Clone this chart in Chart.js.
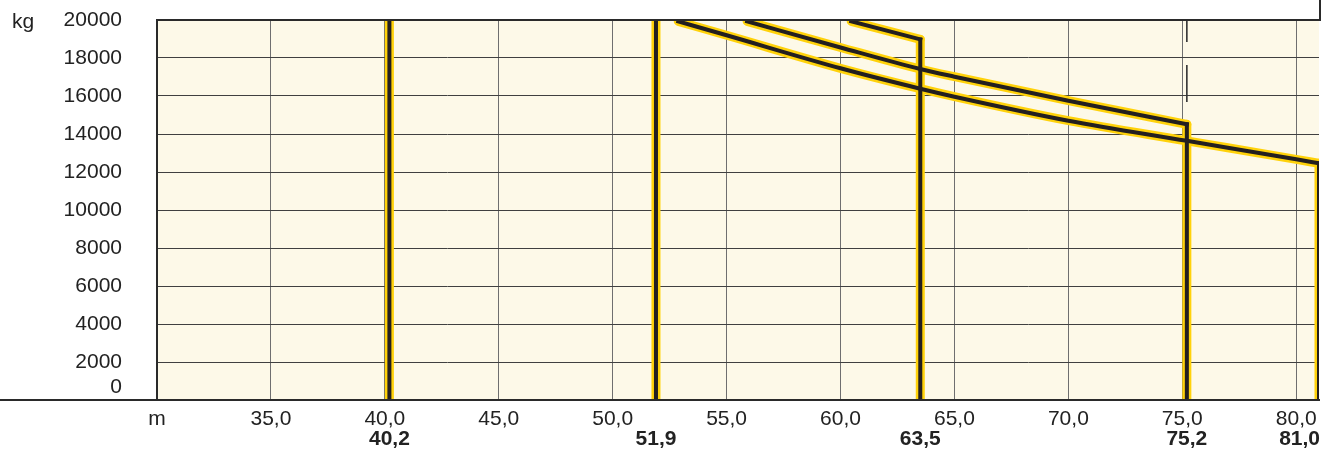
<!DOCTYPE html>
<html><head><meta charset="utf-8">
<script src="https://cdn.jsdelivr.net/npm/chart.js@4/dist/chart.umd.min.js"></script>
<style>html,body{margin:0;padding:0;background:#fff;}#wrap{width:1340px;height:454px;position:relative;}</style>
</head><body><div id="wrap"><canvas id="c"></canvas></div>
<script>
// ---- data ----
const xTickValues = [30, 35, 40, 45, 50, 55, 60, 65, 70, 75, 80];
const xTickLabels = ['m', '35,0', '40,0', '45,0', '50,0', '55,0', '60,0', '65,0', '70,0', '75,0', '80,0'];
const yTickValues = [0, 2000, 4000, 6000, 8000, 10000, 12000, 14000, 16000, 18000, 20000];
const boomValues = [40.2, 51.9, 63.5, 75.2, 81.0];
const boomLabels = ['40,2', '51,9', '63,5', '75,2', '81,0'];

const c402R = [40.2, 40.2];
const c402L = [21000, 0];
const c519R = [51.9, 51.9];
const c519L = [21000, 0];
const c635R = [60.47, 63.5, 63.5];
const c635L = [19930, 18980, 0];
const c752R = [55.9, 60, 63.5, 65, 70, 75.2, 75.2];
const c752L = [19930, 18553, 17421, 17017, 15753, 14509, 0];
const c810R = [52.88, 55, 60, 63.5, 65, 70, 75.2, 80, 81, 81];
const c810L = [19926, 19195, 17458, 16384, 15964, 14700, 13640, 12667, 12456, 0];
const dashR = [75.2, 75.2];
const dashL = [15690, 22000];

const curves = [[c402R, c402L], [c519R, c519L], [c635R, c635L], [c752R, c752L], [c810R, c810L]];
const pts = (r, l, a, b) => r.slice(a, b).map((v, i) => ({x: v, y: l[a + i]}));

const YELLOW = '#FFD20A';
const BLACK = '#231F20';
const FONT = "'Liberation Sans', Arial, sans-serif";

const datasets = [];
function addPart(data, smooth) {
  const common = {pointRadius: 0, clip: 0, tension: 0};
  if (smooth) common.cubicInterpolationMode = 'monotone';
  datasets.push(Object.assign({data, borderColor: YELLOW, borderWidth: 9, order: 3,
    borderJoinStyle: 'round', borderCapStyle: 'round'}, common));
  datasets.push(Object.assign({data, borderColor: BLACK, borderWidth: 4, order: 2,
    borderJoinStyle: 'miter', borderCapStyle: 'square'}, common));
}
curves.forEach(([r, l]) => {
  const n = r.length;
  if (n > 2) addPart(pts(r, l, 0, n - 1), true);
  addPart(pts(r, l, n - 2, n), false);
});
datasets.push({data: pts(dashR, dashL, 0, 2), borderColor: '#333', borderWidth: 1.6, borderDash: [37, 23],
  order: 1, pointRadius: 0, clip: 0});

const decor = {
  id: 'decor',
  beforeDraw(chart) {
    const {ctx, chartArea: a} = chart;
    ctx.save();
    ctx.fillStyle = '#FDF9E8';
    ctx.fillRect(a.left, a.top, a.right - a.left, a.bottom - a.top);
    ctx.restore();
  },
  afterDraw(chart) {
    const {ctx, chartArea: a} = chart;
    const xs = chart.scales.x;
    ctx.save();
    ctx.strokeStyle = '#2a2a2a';
    ctx.lineWidth = 2;
    ctx.beginPath();
    ctx.moveTo(0, a.bottom); ctx.lineTo(a.right + 1, a.bottom);
    ctx.moveTo(a.left, a.bottom); ctx.lineTo(a.left, a.top);
    ctx.lineTo(a.right + 1, a.top); ctx.lineTo(a.right + 1, 0);
    ctx.stroke();
    ctx.fillStyle = '#222';
    ctx.font = '21px ' + FONT;
    ctx.textBaseline = 'middle';
    ctx.textAlign = 'left';
    ctx.fillText('kg', 12, 22);
    ctx.font = 'bold 21px ' + FONT;
    boomValues.forEach((v, i) => {
      const px = xs.getPixelForValue(v);
      if (i === boomValues.length - 1) { ctx.textAlign = 'right'; ctx.fillText(boomLabels[i], a.right + 1, 439); }
      else { ctx.textAlign = 'center'; ctx.fillText(boomLabels[i], px, 439); }
    });
    ctx.restore();
  }
};

new Chart(document.getElementById('c'), {
  type: 'line',
  data: {datasets},
  plugins: [decor],
  options: {
    responsive: true, maintainAspectRatio: false, animation: false,
    layout: {padding: {top: 20, right: 21, left: 0, bottom: 0}},
    plugins: {legend: {display: false}, tooltip: {enabled: false}},
    scales: {
      x: {
        type: 'linear', min: 30, max: 81, position: 'bottom',
        afterBuildTicks: s => { s.ticks = xTickValues.map(v => ({value: v})); },
        afterFit: s => { s.height = 54; s.paddingLeft = 0; s.paddingRight = 0; },
        border: {display: false},
        grid: {drawTicks: false, color: '#6f6f6f', lineWidth: 1},
        ticks: {
          autoSkip: false, maxRotation: 0, padding: 7, color: '#222',
          font: {family: FONT, size: 21},
          callback: v => { const i = xTickValues.indexOf(v); return i >= 0 ? xTickLabels[i] : ''; }
        }
      },
      y: {
        min: 0, max: 20000,
        afterBuildTicks: s => { s.ticks = yTickValues.map(v => ({value: v})); },
        afterFit: s => { s.width = 157; s.paddingTop = 0; s.paddingBottom = 0; },
        border: {display: false},
        grid: {drawTicks: false, color: '#404040', lineWidth: 1},
        ticks: {
          autoSkip: false, padding: 35, color: '#222', font: {family: FONT, size: 21},
          callback: v => v === 0 ? ['0', ''] : String(v)
        }
      }
    }
  }
});
</script></body></html>
